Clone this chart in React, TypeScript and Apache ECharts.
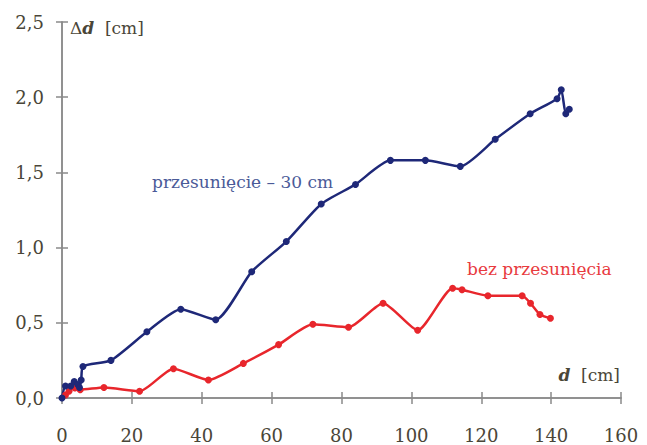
import React, { useEffect, useRef } from "react";
import * as echarts from "echarts";

const xTicks = [0, 20, 40, 60, 80, 100, 120, 140, 160];
const yTicks = [0, 0.5, 1.0, 1.5, 2.0, 2.5];

const blueX = [0, 1, 2.5, 3.5, 4.5, 5, 5.5, 6, 14, 24.3, 34, 44, 54.3, 64.2, 74.2, 84, 94, 104, 114, 124, 134, 141.7, 142.9, 144.2, 145.2];
const blueY = [0, 0.08, 0.08, 0.11, 0.09, 0.07, 0.12, 0.21, 0.25, 0.44, 0.59, 0.52, 0.84, 1.04, 1.29, 1.42, 1.58, 1.58, 1.54, 1.72, 1.89, 1.99, 2.05, 1.89, 1.92];

const redX = [1, 2, 3.7, 5.2, 12, 22.2, 31.9, 41.9, 51.9, 62, 71.8, 82, 91.9, 101.8, 111.8, 114.5, 121.9, 131.7, 134.1, 136.8, 139.8];
const redY = [0.02, 0.045, 0.067, 0.055, 0.07, 0.045, 0.195, 0.12, 0.23, 0.355, 0.49, 0.47, 0.63, 0.45, 0.73, 0.72, 0.68, 0.68, 0.63, 0.555, 0.53];

const blueLabel = "przesunięcie – 30 cm";
const redLabel = "bez przesunięcia";

const FONT = "DejaVu Serif";
const AXIS_COLOR = "#8a8a8a";
const TEXT_COLOR = "#4a4638";
const BLUE = "#1e2878";
const RED = "#e8262c";

export default function App() {
  const ref = useRef<HTMLDivElement>(null);
  useEffect(() => {
    if (!ref.current) return;
    const chart = echarts.init(ref.current, undefined, { renderer: "svg" });
    const axisLine = { show: true, lineStyle: { color: AXIS_COLOR, width: 1.5 } };
    const fmt = (v: number) => v.toFixed(1).replace(".", ",");
    chart.setOption({
      animation: false,
      backgroundColor: "#ffffff",
      grid: { left: 62, right: 26, top: 22, bottom: 47, containLabel: false },
      xAxis: [
        {
          type: "value", min: 0, max: 160, interval: 20, position: "bottom",
          axisLine,
          axisTick: { show: true, inside: false, length: 6, lineStyle: { color: AXIS_COLOR, width: 1.5 } },
          axisLabel: { color: TEXT_COLOR, fontFamily: FONT, fontSize: 18, margin: 28, showMaxLabel: true, showMinLabel: true },
          splitLine: { show: false },
        },
        {
          type: "value", min: 0, max: 160, interval: 20, position: "bottom", offset: 0,
          axisLine,
          axisTick: { show: true, inside: true, length: 6, lineStyle: { color: AXIS_COLOR, width: 1.5 } },
          axisLabel: { show: false },
          splitLine: { show: false },
        },
      ],
      yAxis: [
        {
          type: "value", min: 0, max: 2.5, interval: 0.5, position: "left",
          axisLine,
          axisTick: { show: true, inside: false, length: 6, lineStyle: { color: AXIS_COLOR, width: 1.5 } },
          axisLabel: { color: TEXT_COLOR, fontFamily: FONT, fontSize: 18, margin: 18, formatter: fmt },
          splitLine: { show: false },
        },
        {
          type: "value", min: 0, max: 2.5, interval: 0.5, position: "left", offset: 0,
          axisLine,
          axisTick: { show: true, inside: true, length: 6, lineStyle: { color: AXIS_COLOR, width: 1.5 } },
          axisLabel: { show: false },
          splitLine: { show: false },
        },
      ],
      series: [
        {
          type: "line", name: "red", smooth: 0.2, clip: false,
          data: redX.map((x, i) => [x, redY[i]]),
          symbol: "circle", symbolSize: 7,
          lineStyle: { color: RED, width: 2.5 },
          itemStyle: { color: RED },
        },
        {
          type: "line", name: "blue", smooth: 0.2, clip: false,
          data: blueX.map((x, i) => [x, blueY[i]]),
          symbol: "circle", symbolSize: 7,
          lineStyle: { color: BLUE, width: 2.5 },
          itemStyle: { color: BLUE },
        },
      ],
      graphic: [
        {
          type: "text", left: 70, top: 19,
          style: {
            text: "{a|Δ}{b|d}{a|  [cm]}",
            rich: {
              a: { fontFamily: FONT, fontSize: 17, fill: TEXT_COLOR },
              b: { fontFamily: FONT, fontSize: 17, fontWeight: "bold", fontStyle: "italic", fill: TEXT_COLOR },
            },
          },
        },
        {
          type: "text", right: 27, top: 366,
          style: {
            text: "{b|d}{a|  [cm]}",
            rich: {
              a: { fontFamily: FONT, fontSize: 17, fill: TEXT_COLOR },
              b: { fontFamily: FONT, fontSize: 17, fontWeight: "bold", fontStyle: "italic", fill: TEXT_COLOR },
            },
          },
        },
        {
          type: "text", left: 152, top: 173,
          style: { text: blueLabel, fontFamily: FONT, fontSize: 17, fill: "#4a5a98" },
        },
        {
          type: "text", left: 467, top: 260,
          style: { text: redLabel, fontFamily: FONT, fontSize: 17, fill: "#e83a3e" },
        },
      ],
    });
    return () => chart.dispose();
  }, []);
  return <div ref={ref} style={{ width: 647, height: 445, position: "absolute", left: 0, top: 0 }} />;
}
